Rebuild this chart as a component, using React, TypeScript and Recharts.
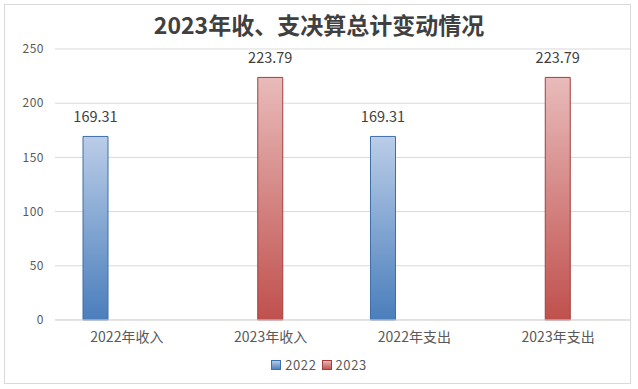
import { BarChart, Bar, XAxis, YAxis, CartesianGrid, LabelList } from 'recharts'

const categories = ['2022年收入', '2023年收入', '2022年支出', '2023年支出']
const values2022 = [169.31, null, 169.31, null]
const values2023 = [null, 223.79, null, 223.79]
const yTicks = [0, 50, 100, 150, 200, 250]

const data = categories.map((name, i) => ({
  name,
  y2022: values2022[i],
  y2023: values2023[i],
  blank: null,
}))

const FONT = '"Noto Sans CJK SC", "Noto Sans", sans-serif'

const LEGEND_ITEMS = [
  { label: '2022', grad: 'url(#blueGrad)', stroke: '#3F6FA8' },
  { label: '2023', grad: 'url(#redGrad)', stroke: '#A33F3C' },
]

function ChartLegend() {
  return (
    <div
      style={{
        position: 'absolute', left: 0, top: 355, width: 638,
        display: 'flex', justifyContent: 'center', gap: 5,
        fontFamily: FONT, fontSize: 13, letterSpacing: 0.6, color: '#595959',
      }}
    >
      {LEGEND_ITEMS.map((it) => (
        <span key={it.label} style={{ display: 'flex', alignItems: 'center', gap: 4 }}>
          <svg width={10} height={10}>
            <rect x={0.5} y={0.5} width={9} height={9} fill={it.grad} stroke={it.stroke} />
          </svg>
          {it.label}
        </span>
      ))}
    </div>
  )
}

export default function App() {
  return (
    <div style={{ position: 'absolute', left: 0, top: 0, width: 638, height: 389, background: '#fff' }}>
      <div
        style={{
          position: 'absolute', left: 4, top: 4, width: 627, height: 380,
          border: '1px solid #d9d9d9', boxSizing: 'border-box',
        }}
      />
      <div
        style={{
          position: 'absolute', left: 0, top: 7, width: 638, textAlign: 'center',
          fontFamily: FONT, fontWeight: 'bold', fontSize: 23, color: '#404040',
        }}
      >
        2023年收、支决算总计变动情况
      </div>
      <BarChart
        width={638}
        height={389}
        data={data}
        margin={{ top: 49, right: 8, bottom: 39, left: 10 }}
        barSize={25}
        barGap={6}
        style={{ position: 'absolute', left: 0, top: 0 }}
      >
        <defs>
          <linearGradient id="blueGrad" x1="0" y1="0" x2="0" y2="1">
            <stop offset="0%" stopColor="#BACDE8" />
            <stop offset="100%" stopColor="#4A7EBB" />
          </linearGradient>
          <linearGradient id="redGrad" x1="0" y1="0" x2="0" y2="1">
            <stop offset="0%" stopColor="#E8BBBA" />
            <stop offset="100%" stopColor="#C0504D" />
          </linearGradient>
        </defs>
        <CartesianGrid vertical={false} stroke="#d9d9d9" />
        <XAxis
          dataKey="name"
          height={30}
          axisLine={{ stroke: '#d9d9d9' }}
          tickLine={false}
          tickMargin={6}
          tick={{ fontSize: 14, fill: '#595959', fontFamily: FONT }}
        />
        <YAxis
          width={45}
          domain={[0, 250]}
          ticks={yTicks}
          axisLine={false}
          tickLine={false}
          tickMargin={5}
          tick={{ fontSize: 12, fill: '#595959', fontFamily: FONT, letterSpacing: 0.5 }}
        />
        <Bar dataKey="y2022" name="2022" fill="url(#blueGrad)" stroke="#3F6FA8" isAnimationActive={false}>
          <LabelList dataKey="y2022" position="top" offset={14} fill="#404040" fontSize={14.5} fontFamily={FONT} />
        </Bar>
        <Bar dataKey="y2023" name="2023" fill="url(#redGrad)" stroke="#A33F3C" isAnimationActive={false}>
          <LabelList dataKey="y2023" position="top" offset={14} fill="#404040" fontSize={14.5} fontFamily={FONT} />
        </Bar>
        <Bar dataKey="blank" legendType="none" isAnimationActive={false} />
      </BarChart>
      <ChartLegend />
    </div>
  )
}
